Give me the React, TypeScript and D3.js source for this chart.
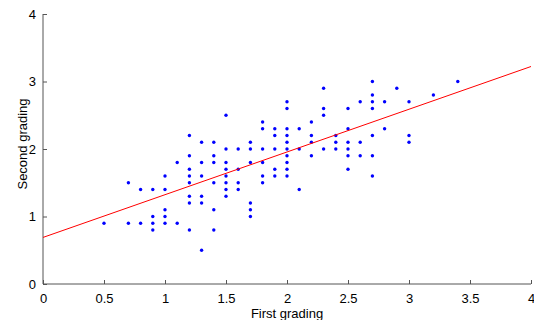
// Scatter of first vs second grading with fitted regression line
import React, { useEffect, useRef } from 'react';
import * as d3 from 'd3';

// first grading (x) and second grading (y), paired by index
const firstGrades = [
    0.5,
    0.7, 0.7,
    0.8, 0.8,
    0.9, 0.9, 0.9, 0.9,
    1.0, 1.0, 1.0, 1.0, 1.0,
    1.1, 1.1,
    1.2, 1.2, 1.2, 1.2, 1.2, 1.2, 1.2, 1.2,
    1.3, 1.3, 1.3, 1.3, 1.3, 1.3,
    1.4, 1.4, 1.4, 1.4, 1.4, 1.4,
    1.5, 1.5, 1.5, 1.5, 1.5, 1.5, 1.5, 1.5,
    1.6, 1.6, 1.6, 1.6,
    1.7, 1.7, 1.7, 1.7, 1.7, 1.7,
    1.8, 1.8, 1.8, 1.8, 1.8, 1.8,
    1.9, 1.9, 1.9, 1.9, 1.9,
    2.0, 2.0, 2.0, 2.0, 2.0, 2.0, 2.0, 2.0, 2.0, 2.0,
    2.1, 2.1, 2.1,
    2.2, 2.2, 2.2, 2.2,
    2.3, 2.3, 2.3, 2.3,
    2.4, 2.4, 2.4,
    2.5, 2.5, 2.5, 2.5, 2.5, 2.5,
    2.6, 2.6, 2.6,
    2.7, 2.7, 2.7, 2.7, 2.7, 2.7, 2.7,
    2.8, 2.8,
    2.9,
    3.0, 3.0, 3.0,
    3.2,
    3.4,
];
const secondGrades = [
    0.9,
    1.5, 0.9,
    1.4, 0.9,
    1.4, 1.0, 0.9, 0.8,
    1.6, 1.4, 1.1, 1.0, 0.9,
    1.8, 0.9,
    2.2, 1.9, 1.7, 1.6, 1.5, 1.3, 1.2, 0.8,
    2.1, 1.8, 1.6, 1.3, 1.2, 0.5,
    2.1, 1.9, 1.8, 1.5, 1.1, 0.8,
    2.5, 2.0, 1.8, 1.7, 1.6, 1.5, 1.4, 1.3,
    2.0, 1.7, 1.5, 1.4,
    2.1, 2.0, 1.8, 1.2, 1.1, 1.0,
    2.4, 2.3, 2.0, 1.8, 1.6, 1.5,
    2.3, 2.2, 2.0, 1.7, 1.6,
    2.7, 2.6, 2.3, 2.2, 2.1, 2.0, 1.9, 1.8, 1.7, 1.6,
    2.3, 2.0, 1.4,
    2.4, 2.2, 2.1, 1.9,
    2.9, 2.6, 2.5, 2.0,
    2.2, 2.1, 2.0,
    2.6, 2.3, 2.1, 2.0, 1.9, 1.7,
    2.7, 2.1, 1.9,
    3.0, 2.8, 2.7, 2.6, 2.2, 1.9, 1.6,
    2.7, 2.3,
    2.9,
    2.7, 2.2, 2.1,
    2.8,
    3.0,
];

// fitted line
const fitIntercept = 0.69;
const fitSlope = 0.633;

const xTicks = [0, 0.5, 1, 1.5, 2, 2.5, 3, 3.5, 4];
const yTicks = [0, 1, 2, 3, 4];

const FONT = '"Liberation Sans", Arial, Helvetica, sans-serif';

export default function App() {
    const chartRef = useRef<SVGSVGElement>(null);

    useEffect(() => {
        if (!chartRef.current) return;
        const root = d3.select(chartRef.current);
        root.selectAll('*').remove();

        const width = 534;
        const height = 320;
        const margin = { top: 14, right: 3, bottom: 36, left: 43 };
        const innerW = width - margin.left - margin.right;
        const innerH = height - margin.top - margin.bottom;

        const svg = root.append('g')
            .attr('transform', `translate(${margin.left},${margin.top})`);

        const xScale = d3.scaleLinear().domain([0, 4]).range([0, innerW]);
        const yScale = d3.scaleLinear().domain([0, 4]).range([innerH, 0]);

        // MATLAB style axes: inward ticks, left and bottom only
        const xAxis = svg.append('g')
            .attr('transform', `translate(0,${innerH})`)
            .call(d3.axisBottom(xScale)
                .tickValues(xTicks)
                .tickSize(-4)
                .tickPadding(10)
                .tickFormat(d => String(d)));
        const yAxis = svg.append('g')
            .call(d3.axisLeft(yScale)
                .tickValues(yTicks)
                .tickSize(-4)
                .tickPadding(7)
                .tickFormat(d => String(d)));

        [xAxis, yAxis].forEach(ax => {
            ax.select('.domain').remove();
            ax.selectAll('.tick line').attr('stroke', '#555');
            ax.selectAll('.tick text')
                .attr('fill', '#000')
                .attr('font-family', FONT)
                .attr('font-size', 13);
        });
        svg.append('line')
            .attr('x1', 0).attr('x2', 0)
            .attr('y1', 0).attr('y2', innerH)
            .attr('stroke', '#555');
        svg.append('line')
            .attr('x1', 0).attr('x2', innerW)
            .attr('y1', innerH).attr('y2', innerH)
            .attr('stroke', '#555');

        // axis titles
        svg.append('text')
            .attr('x', innerW / 2)
            .attr('y', innerH + 34)
            .attr('text-anchor', 'middle')
            .attr('font-family', FONT)
            .attr('font-size', 13)
            .text('First grading');
        svg.append('text')
            .attr('transform', 'rotate(-90)')
            .attr('x', -innerH / 2 + 5)
            .attr('y', -16)
            .attr('text-anchor', 'middle')
            .attr('font-family', FONT)
            .attr('font-size', 13)
            .text('Second grading');

        // points
        const points = firstGrades.map((x, i) => ({ x, y: secondGrades[i] }));
        svg.selectAll('.point')
            .data(points)
            .enter()
            .append('circle')
            .attr('class', 'point')
            .attr('cx', d => xScale(d.x))
            .attr('cy', d => yScale(d.y))
            .attr('r', 1.7)
            .attr('fill', '#0000ff');

        // regression line
        const line = d3.line<number>()
            .x(d => xScale(d))
            .y(d => yScale(fitIntercept + fitSlope * d));
        svg.append('path')
            .datum([0, 4])
            .attr('fill', 'none')
            .attr('stroke', '#ff0000')
            .attr('stroke-width', 1)
            .attr('d', line);
    }, []);

    return (
        <svg
            ref={chartRef}
            width={534}
            height={320}
            style={{ position: 'absolute', left: 0, top: 0, background: '#fff' }}
        />
    );
}
